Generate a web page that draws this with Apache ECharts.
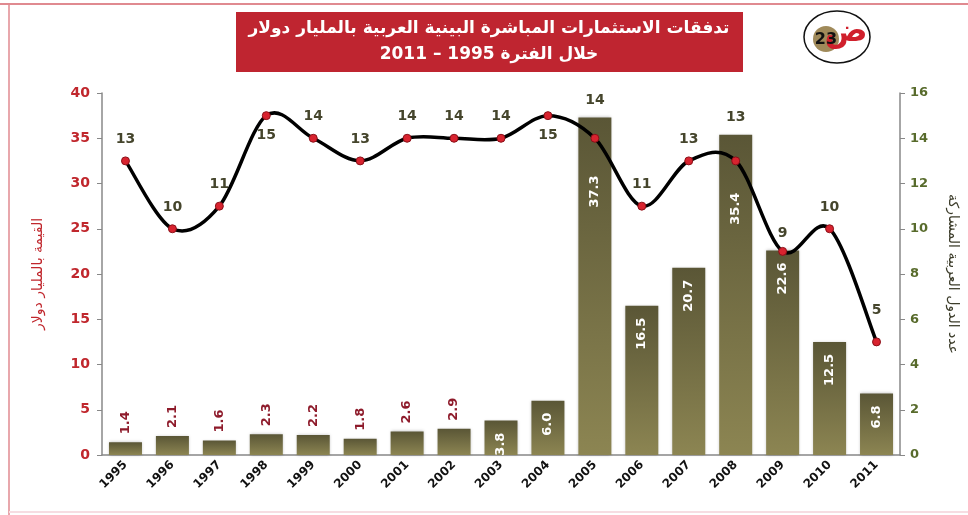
<!DOCTYPE html>
<html>
<head>
<meta charset="utf-8">
<script src="https://cdn.jsdelivr.net/npm/echarts@6/dist/echarts.min.js"></script>
<style>
  html, body { margin: 0; padding: 0; background: #fff; }
  #chart { width: 968px; height: 515px; }
</style>
</head>
<body>
<div id="chart"></div>
<script>
// السنوات
var years = ['1995', '1996', '1997', '1998', '1999', '2000', '2001', '2002', '2003',
  '2004', '2005', '2006', '2007', '2008', '2009', '2010', '2011'];
// القيمة بالمليار دولار
var values = [1.4, 2.1, 1.6, 2.3, 2.2, 1.8, 2.6, 2.9, 3.8, 6.0, 37.3, 16.5, 20.7, 35.4, 22.6, 12.5, 6.8];
// عدد الدول المشاركة
var countries = [13, 10, 11, 15, 14, 13, 14, 14, 14, 15, 14, 11, 13, 13, 9, 10, 5];

var titleText = 'تدفقات الاستثمارات المباشرة البينية العربية بالمليار دولار\nخلال الفترة 1995 – 2011';
var leftName = 'القيمة بالمليار دولار';
var rightName = 'عدد الدول العربية المشاركة';

var font = 'DejaVu Sans';
var leftMax = 40, rightMax = 16;
var plotH = 515 - 93 - 60;
var maxCount = Math.max.apply(null, countries);

// الأعمدة الصغيرة: القيمة فوق العمود، والكبيرة: داخل العمود
var barData = values.map(function (v) {
  if (v >= 3.5) {
    return {
      value: v,
      label: {
        position: 'insideTop', distance: v > 30 ? 58 : 12, rotate: 90, align: 'right', verticalAlign: 'middle',
        color: '#fff'
      }
    };
  }
  return {
    value: v,
    label: {
      position: 'top', distance: 8, rotate: 90, align: 'left', verticalAlign: 'middle',
      color: '#8e1b2b'
    }
  };
});

// تسميات الخط: فوق النقطة، أو تحتها عند القمة، أو فوق العمود إذا غطاها
var lineData = countries.map(function (c, i) {
  var barInRight = values[i] * rightMax / leftMax;
  if (c === maxCount) {
    return { value: c, label: { position: 'bottom', distance: 8 } };
  }
  if (barInRight > c) {
    return { value: c, label: { position: 'top', distance: (barInRight - c) * plotH / rightMax + 6 } };
  }
  return { value: c, label: { position: 'top', distance: i === countries.length - 1 ? 20 : 10 } };
});

// منحنى ناعم على طريقة إكسل
function renderCurve(params, api) {
  var i = params.dataIndex;
  var n = countries.length;
  if (i >= n - 1) return null;
  var p0 = api.coord([Math.max(i - 1, 0), countries[Math.max(i - 1, 0)]]);
  var p1 = api.coord([i, countries[i]]);
  var p2 = api.coord([i + 1, countries[i + 1]]);
  var p3 = api.coord([Math.min(i + 2, n - 1), countries[Math.min(i + 2, n - 1)]]);
  return {
    type: 'bezierCurve',
    shape: {
      x1: p1[0], y1: p1[1], x2: p2[0], y2: p2[1],
      cpx1: p1[0] + (p2[0] - p0[0]) / 6, cpy1: p1[1] + (p2[1] - p0[1]) / 6,
      cpx2: p2[0] - (p3[0] - p1[0]) / 6, cpy2: p2[1] - (p3[1] - p1[1]) / 6
    },
    style: { stroke: '#000', lineWidth: 3.5, fill: null }
  };
}

var dom = document.getElementById('chart');
var myChart = echarts.init(dom);
var option = {
  animation: false,
  textStyle: { fontFamily: font },
  grid: { left: 102, right: 61, top: 93, bottom: 60 },
  xAxis: {
    type: 'category',
    data: years,
    axisLine: { lineStyle: { color: '#888', width: 1.5 } },
    axisTick: { lineStyle: { color: '#888' }, length: 5 },
    axisLabel: { rotate: 45, color: '#111', fontWeight: 'bold', fontSize: 12, margin: 8, interval: 0 }
  },
  yAxis: [{
    type: 'value', min: 0, max: leftMax, interval: 5,
    name: leftName, nameLocation: 'middle', nameGap: 57, nameRotate: 90,
    nameTextStyle: { color: '#c0272d', fontSize: 14 },
    splitLine: { show: false },
    axisLine: { show: true, lineStyle: { color: '#888', width: 1.5 } },
    axisTick: { show: true, inside: false, length: 5, lineStyle: { color: '#888' } },
    axisLabel: { color: '#c0272d', fontWeight: 'bold', fontSize: 14, margin: 12 }
  }, {
    type: 'value', min: 0, max: rightMax, interval: 2,
    name: rightName, nameLocation: 'middle', nameGap: 46, nameRotate: -90,
    nameTextStyle: { color: '#3c3c2a', fontSize: 14 },
    splitLine: { show: false },
    axisLine: { show: true, lineStyle: { color: '#888', width: 1.5 } },
    axisTick: { show: true, length: 5, lineStyle: { color: '#888' } },
    axisLabel: { color: '#586b2c', fontWeight: 'bold', fontSize: 13, margin: 10 }
  }],
  series: [{
    type: 'bar',
    data: barData,
    barWidth: 33,
    itemStyle: {
      color: new echarts.graphic.LinearGradient(0, 0, 0, 1, [
        { offset: 0, color: '#5a5636' },
        { offset: 1, color: '#8c8552' }
      ]),
      shadowColor: 'rgba(0,0,0,0.25)', shadowBlur: 3
    },
    label: {
      show: true, fontSize: 13, fontWeight: 'bold',
      formatter: function (p) { return p.value.toFixed(1); }
    }
  }, {
    type: 'custom',
    yAxisIndex: 1,
    data: countries.map(function (c, i) { return [i, c]; }),
    renderItem: renderCurve,
    silent: true,
    z: 4
  }, {
    type: 'line',
    yAxisIndex: 1,
    data: lineData,
    symbol: 'circle',
    symbolSize: 8,
    lineStyle: { opacity: 0 },
    itemStyle: { color: '#d8232f', borderColor: '#8a1018', borderWidth: 1 },
    label: { show: true, color: '#45452c', fontSize: 14, fontWeight: 'bold' },
    z: 5
  }],
  graphic: [
    // إطار الصفحة
    { type: 'line', shape: { x1: 0, y1: 4, x2: 968, y2: 4 }, style: { stroke: '#e08a90', lineWidth: 2 } },
    { type: 'line', shape: { x1: 9, y1: 4, x2: 9, y2: 515 }, style: { stroke: '#e08a90', lineWidth: 1.5 } },
    { type: 'line', shape: { x1: 9, y1: 512, x2: 968, y2: 512 }, style: { stroke: '#f6dde2', lineWidth: 2 } },
    // صندوق العنوان
    { type: 'rect', shape: { x: 236, y: 12, width: 507, height: 60 }, style: { fill: '#bf2530' } },
    {
      type: 'text', x: 489, y: 42,
      style: {
        text: titleText, align: 'center', verticalAlign: 'middle',
        fill: '#fff', font: 'bold 17px "DejaVu Sans"', lineHeight: 26
      }
    },
    // الشعار
    { type: 'ellipse', shape: { cx: 837, cy: 37, rx: 33, ry: 26 }, style: { fill: '#fff', stroke: '#111', lineWidth: 1.5 } },
    { type: 'circle', shape: { cx: 826, cy: 39, r: 13 }, style: { fill: '#a08a5a' } },
    {
      type: 'text', x: 846, y: 33, z: 1,
      style: { text: 'ض', align: 'center', verticalAlign: 'middle', fill: '#d0202c', font: 'bold 32px "DejaVu Sans"' }
    },
    {
      type: 'text', x: 826, y: 40, z: 2,
      style: { text: '23', align: 'center', verticalAlign: 'middle', fill: '#111', font: 'bold 16px "DejaVu Sans"' }
    }
  ]
};
myChart.setOption(option, true);
</script>
</body>
</html>
